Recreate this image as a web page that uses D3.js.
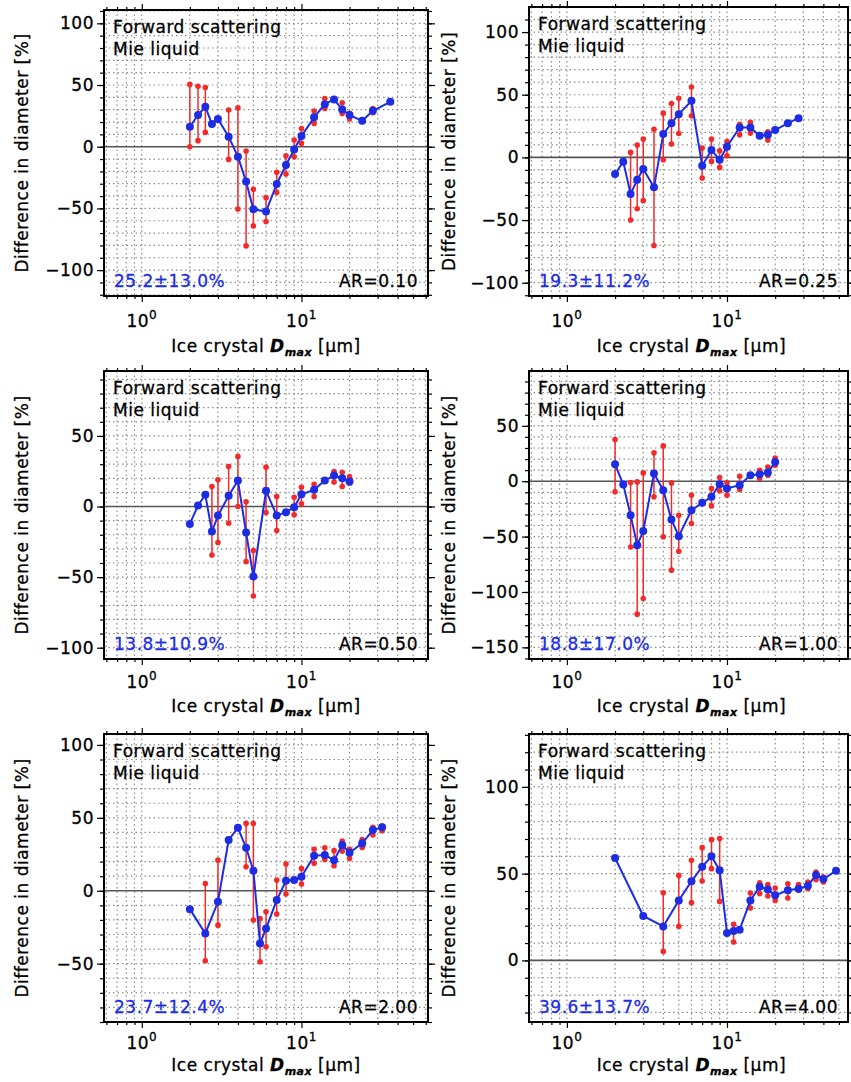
<!DOCTYPE html>
<html>
<head>
<meta charset="utf-8">
<script src="https://cdn.jsdelivr.net/npm/d3@7"></script>
<style>
  body { margin: 0; background: #fff; }
  svg text { font-family: "DejaVu Sans", sans-serif; letter-spacing: 0.5px; }
</style>
</head>
<body>
<svg id="chart" width="851" height="1082"></svg>
<script>
// diameter differences (%), one set per aspect ratio
var x010 = [2, 2.25, 2.5, 2.75, 3, 3.5, 4, 4.5, 5, 6, 7, 8, 9, 10, 12, 14, 16, 18, 20, 24, 28, 36];
var mid010 = [16.2, 25.7, 32.4, 18.4, 22.4, 8.1, -8.1, -28.3, -50.7, -52.6, -30.2, -14.8, -2.2, 8.6, 23.8, 34.5, 38.3, 30.2, 25.6, 21, 29.1, 36.4];
var lo010 = [0, 4.9, 11.6, null, null, -10.3, -50.5, -80.4, -64.2, -60.7, -37.2, -22.1, -8.1, 2.7, 18.9, 31, null, 27, 22.4, null, 27.5, null];
var hi010 = [50.5, 49, 48, null, null, 29.7, 31.6, -3.5, -34.5, -41.3, -20.8, -7.3, 5.4, 14.8, 28.9, 39.1, null, 35.6, 27, null, 31, null];

var x025 = [2, 2.25, 2.5, 2.75, 3, 3.5, 4, 4.5, 5, 6, 7, 8, 9, 10, 12, 14, 16, 18, 20, 24, 28];
var mid025 = [-13.3, -3.4, -29.2, -17.8, -9.3, -23.9, 18.6, 27.3, 34.5, 45.1, -6.6, 5.8, -1.9, 8.5, 23.9, 23.9, 17.2, 18, 21.8, 27.3, 31.3];
var lo025 = [null, null, -49.9, -41, -34.5, -70.3, -1.9, 10.6, 19.1, 33.2, -16.4, -3.2, -8, 1.3, 18, 19.4, null, 13.8, null, null, null];
var hi025 = [null, null, 4, 9.8, 14.6, 22.5, 35.3, 43, 47.2, 56.2, 7.4, 14.6, 5.3, 12.7, 26.5, 27.9, null, 20.4, null, null, null];

var x050 = [2, 2.25, 2.5, 2.75, 3, 3.5, 4, 4.5, 5, 6, 7, 8, 9, 10, 12, 14, 16, 18, 20];
var mid050 = [-12.3, 0.7, 8.3, -17.7, -6.4, 7.6, 18.4, -18.4, -49.6, 11.1, -6.4, -4, -0.5, 8.7, 11.8, 18.4, 22, 20.1, 17.7];
var lo050 = [null, null, null, -34.3, -25.5, -11.8, 0, -39, -63.4, -4.3, -17, null, -5.9, 1.9, 7.1, null, 17.3, 14.2, 16.5];
var hi050 = [null, null, null, 14.2, 18.9, 28.4, 35.5, 3.3, -31.2, 27.9, 7.1, null, 6.6, 13.7, 15.8, null, 24.8, 24.3, 21.3];

var x100 = [2, 2.25, 2.5, 2.75, 3, 3.5, 4, 4.5, 5, 6, 7, 8, 9, 10, 12, 14, 16, 18, 20];
var mid100 = [15.3, -3, -30.7, -57.7, -45, 6.9, -8.1, -34.6, -49.6, -26.2, -19.5, -14.1, -2.7, -6.6, -3.6, 5.4, 6.3, 7.8, 17.4];
var lo100 = [-9.6, null, -59.4, -120, -105.9, -14.1, -50.2, -80.3, -63.2, -38.2, null, -22.3, -8.7, -12.6, -7.5, null, 2.4, 5.4, 14.4];
var hi100 = [37.6, null, -1.2, -0.6, 7.5, 25.6, 31.9, -1.5, -30.7, -12.6, null, -6.6, 3.3, -1.5, 4.5, null, 9.9, 12.9, 21];

var x200 = [2, 2.5, 3, 3.5, 4, 4.5, 5, 5.5, 6, 7, 8, 9, 10, 12, 14, 16, 18, 20, 24, 28, 32];
var mid200 = [-12.6, -29.3, -7.6, 34.8, 43.2, 29.5, 13.7, -36.2, -25.9, -6.4, 6.9, 7.3, 9.6, 24, 24.5, 21, 31.4, 26.1, 32.5, 41.6, 43.5];
var lo200 = [null, -48, -23.6, null, null, 16.5, -20.1, -48.7, -38.4, -16, -2.3, null, 4.6, 18.8, 21.5, 17.2, 27.2, 22.2, 29.7, 38.2, 41.2];
var hi200 = [null, 5, 21, null, null, 46.2, 46.2, -19, -14.4, 7.3, 18.3, null, 15.3, 28.4, 29.5, 27.5, 34.1, 28.4, 35.2, 43.5, 44.4];

var x400 = [2, 3, 4, 5, 6, 7, 8, 9, 10, 11, 12, 14, 16, 18, 20, 24, 28, 32, 36, 40, 48];
var mid400 = [59, 25.6, 19.6, 34.6, 45.6, 54, 60, 52, 15.8, 17, 17.7, 34.6, 42.5, 40.8, 37.5, 40.4, 41.3, 43, 49.3, 46.9, 51.7];
var lo400 = [null, null, 5.2, 19.6, 33.3, 45.8, 52.9, 34, null, 10.6, null, 30.2, 38.5, 37.1, 34.6, 36, 40.4, 41.3, 46.5, 45.2, null];
var hi400 = [null, null, 39, 49, 57.7, 65, 69.6, 70.2, null, 20.8, null, 38.8, 44.8, 43.7, 41.7, 44.2, 43.7, 45.2, 51, 48, null];

var statLabels = ["25.2\u00b113.0%", "19.3\u00b111.2%", "13.8\u00b110.9%", "18.8\u00b117.0%", "23.7\u00b112.4%", "39.6\u00b113.7%"];
var arLabels = ["AR=0.10", "AR=0.25", "AR=0.50", "AR=1.00", "AR=2.00", "AR=4.00"];
var yMajorTicks = [
  [-100, -50, 0, 50, 100],
  [-100, -50, 0, 50, 100],
  [-100, -50, 0, 50],
  [-150, -100, -50, 0, 50],
  [-50, 0, 50, 100],
  [0, 50, 100]
];
var xMajorTicks = [1, 10];
var xMinorTicks = [0.6, 0.7, 0.8, 0.9, 2, 3, 4, 5, 6, 7, 8, 9, 20, 30, 40, 50, 60];

var series = [
  [x010, mid010, lo010, hi010],
  [x025, mid025, lo025, hi025],
  [x050, mid050, lo050, hi050],
  [x100, mid100, lo100, hi100],
  [x200, mid200, lo200, hi200],
  [x400, mid400, lo400, hi400]
];

// panel boxes
var layout = [
  { left: 104, top: 10, width: 324, height: 286, xDom: [0.58, 62], yDom: [-121, 110.8], lab: 31, tit: 56, yt: 22 },
  { left: 529, top: 7, width: 319, height: 289, xDom: [0.58, 57], yDom: [-110.6, 120], lab: 31, tit: 56, yt: 449 },
  { left: 104, top: 371, width: 324, height: 288, xDom: [0.58, 62], yDom: [-108, 96], lab: 29, tit: 53, yt: 22 },
  { left: 529, top: 371, width: 319, height: 288, xDom: [0.58, 57], yDom: [-160.5, 99.5], lab: 29, tit: 53, yt: 449 },
  { left: 104, top: 734, width: 324, height: 288, xDom: [0.58, 62], yDom: [-90, 107.5], lab: 27, tit: 49, yt: 22 },
  { left: 529, top: 734, width: 319, height: 288, xDom: [0.58, 57], yDom: [-35.5, 130.5], lab: 27, tit: 49, yt: 449 }
];

var svg = d3.select("#chart");
var BLUE = "#1c2de3", RED = "#f22a2a";

layout.forEach(function (p, i) {
  var x = d3.scaleLog().domain(p.xDom).range([0, p.width]);
  var y = d3.scaleLinear().domain(p.yDom).range([p.height, 0]);
  var g = svg.append("g").attr("transform", "translate(" + p.left + "," + p.top + ")");

  var yMinor = d3.range(Math.ceil(p.yDom[0] / 10) * 10, p.yDom[1], 10);
  var xGrid = xMinorTicks.concat(xMajorTicks).filter(function (v) { return v > p.xDom[0] && v < p.xDom[1]; });

  // dotted grid
  g.append("g").selectAll("line").data(yMinor.filter(function (v) { return v !== 0; }))
    .enter().append("line")
    .attr("x1", 0).attr("x2", p.width)
    .attr("y1", function (d) { return y(d); }).attr("y2", function (d) { return y(d); })
    .attr("stroke", "#8c8c8c").attr("stroke-width", 1.2).attr("stroke-dasharray", "1.5,3");
  g.append("g").selectAll("line").data(xGrid)
    .enter().append("line")
    .attr("y1", 0).attr("y2", p.height)
    .attr("x1", function (d) { return x(d); }).attr("x2", function (d) { return x(d); })
    .attr("stroke", "#8c8c8c").attr("stroke-width", 1.2).attr("stroke-dasharray", "1.5,3");

  g.append("line")
    .attr("x1", 0).attr("x2", p.width)
    .attr("y1", y(0)).attr("y2", y(0))
    .attr("stroke", "#555").attr("stroke-width", 1.6);

  // axes: majors + minors on all four sides
  var yMaj = yMajorTicks[i];
  g.append("g").call(d3.axisLeft(y).tickValues(yMaj).tickSize(7).tickPadding(3)
      .tickFormat(function (d) { return d < 0 ? "\u2212" + Math.abs(d) : d; }))
    .call(function (a) { a.select(".domain").remove(); a.selectAll("text").attr("font-size", 17).attr("font-family", "DejaVu Sans"); });
  g.append("g").call(d3.axisLeft(y).tickValues(yMinor).tickSize(4).tickFormat(""))
    .call(function (a) { a.select(".domain").remove(); });
  g.append("g").attr("transform", "translate(" + p.width + ",0)")
    .call(d3.axisRight(y).tickValues(yMaj).tickSize(7).tickFormat(""))
    .call(function (a) { a.select(".domain").remove(); });
  g.append("g").attr("transform", "translate(" + p.width + ",0)")
    .call(d3.axisRight(y).tickValues(yMinor).tickSize(4).tickFormat(""))
    .call(function (a) { a.select(".domain").remove(); });

  var xMinIn = xMinorTicks.filter(function (v) { return v > p.xDom[0] && v < p.xDom[1]; });
  [["axisBottom", p.height], ["axisTop", 0]].forEach(function (s) {
    g.append("g").attr("transform", "translate(0," + s[1] + ")")
      .call(d3[s[0]](x).tickValues(xMajorTicks).tickSize(6).tickFormat(""))
      .call(function (a) { a.select(".domain").remove(); });
    g.append("g").attr("transform", "translate(0," + s[1] + ")")
      .call(d3[s[0]](x).tickValues(xMinIn).tickSize(3).tickFormat(""))
      .call(function (a) { a.select(".domain").remove(); });
  });
  g.selectAll(".tick line").attr("stroke", "#000").attr("stroke-width", 1.2);

  // x tick labels 10^n
  xMajorTicks.forEach(function (v) {
    var t = g.append("text").attr("x", x(v)).attr("y", p.height + p.lab)
      .attr("text-anchor", "middle").attr("font-size", 17);
    t.append("tspan").text("10");
    t.append("tspan").attr("dy", -8).attr("font-size", 12).text(Math.round(Math.log10(v)));
  });

  // error bars
  var s = series[i];
  var pts = s[0].map(function (xv, k) { return { x: xv, m: s[1][k], lo: s[2][k], hi: s[3][k] }; });
  var bars = pts.filter(function (d) { return d.lo !== null; });
  g.append("g").selectAll("line").data(bars).enter().append("line")
    .attr("x1", function (d) { return x(d.x); }).attr("x2", function (d) { return x(d.x); })
    .attr("y1", function (d) { return y(d.lo); }).attr("y2", function (d) { return y(d.hi); })
    .attr("stroke", RED).attr("stroke-width", 1.5);
  var ends = [];
  bars.forEach(function (d) { ends.push({ x: d.x, v: d.lo }, { x: d.x, v: d.hi }); });
  g.append("g").selectAll("circle").data(ends).enter().append("circle")
    .attr("cx", function (d) { return x(d.x); }).attr("cy", function (d) { return y(d.v); })
    .attr("r", 2.8).attr("fill", RED);

  g.append("path").datum(pts)
    .attr("d", d3.line().x(function (d) { return x(d.x); }).y(function (d) { return y(d.m); }))
    .attr("fill", "none").attr("stroke", BLUE).attr("stroke-width", 2);
  g.append("g").selectAll("circle").data(pts).enter().append("circle")
    .attr("cx", function (d) { return x(d.x); }).attr("cy", function (d) { return y(d.m); })
    .attr("r", 4).attr("fill", BLUE);

  // labels in the box
  g.append("text").attr("x", 9).attr("y", 23).attr("font-size", 17).text("Forward scattering");
  g.append("text").attr("x", 9).attr("y", 45).attr("font-size", 17).text("Mie liquid");
  g.append("text").attr("x", 10).attr("y", p.height - 9).attr("font-size", 17)
    .attr("fill", BLUE).text(statLabels[i]);
  g.append("text").attr("x", p.width - 10).attr("y", p.height - 9).attr("font-size", 17)
    .attr("text-anchor", "end").text(arLabels[i]);

  g.append("rect").attr("width", p.width).attr("height", p.height)
    .attr("fill", "none").attr("stroke", "#000").attr("stroke-width", 2);

  // axis titles
  var xt = g.append("text").attr("x", (x(0.58) + x(62)) / 2).attr("y", p.height + p.tit)
    .attr("text-anchor", "middle").attr("font-size", 17);
  xt.append("tspan").text("Ice crystal ");
  xt.append("tspan").attr("font-weight", "bold").attr("font-style", "italic").text("D");
  xt.append("tspan").attr("font-weight", "bold").attr("font-style", "italic")
    .attr("font-size", 11).attr("dy", 4).text("max");
  xt.append("tspan").attr("dy", -4).text(" [\u03bcm]");

  svg.append("text")
    .attr("transform", "translate(" + p.yt + "," + (p.top + p.height / 2) + ") rotate(-90)")
    .attr("text-anchor", "middle").attr("dy", "0.35em").attr("font-size", 17)
    .text("Difference in diameter [%]");
});

// slightly heavier strokes on the lettering, like the plotted originals
svg.selectAll("text").each(function () {
  var f = this.getAttribute("fill");
  d3.select(this).attr("stroke", f && f !== "currentColor" ? f : "#000").attr("stroke-width", 0.3);
});
</script>
</body>
</html>
